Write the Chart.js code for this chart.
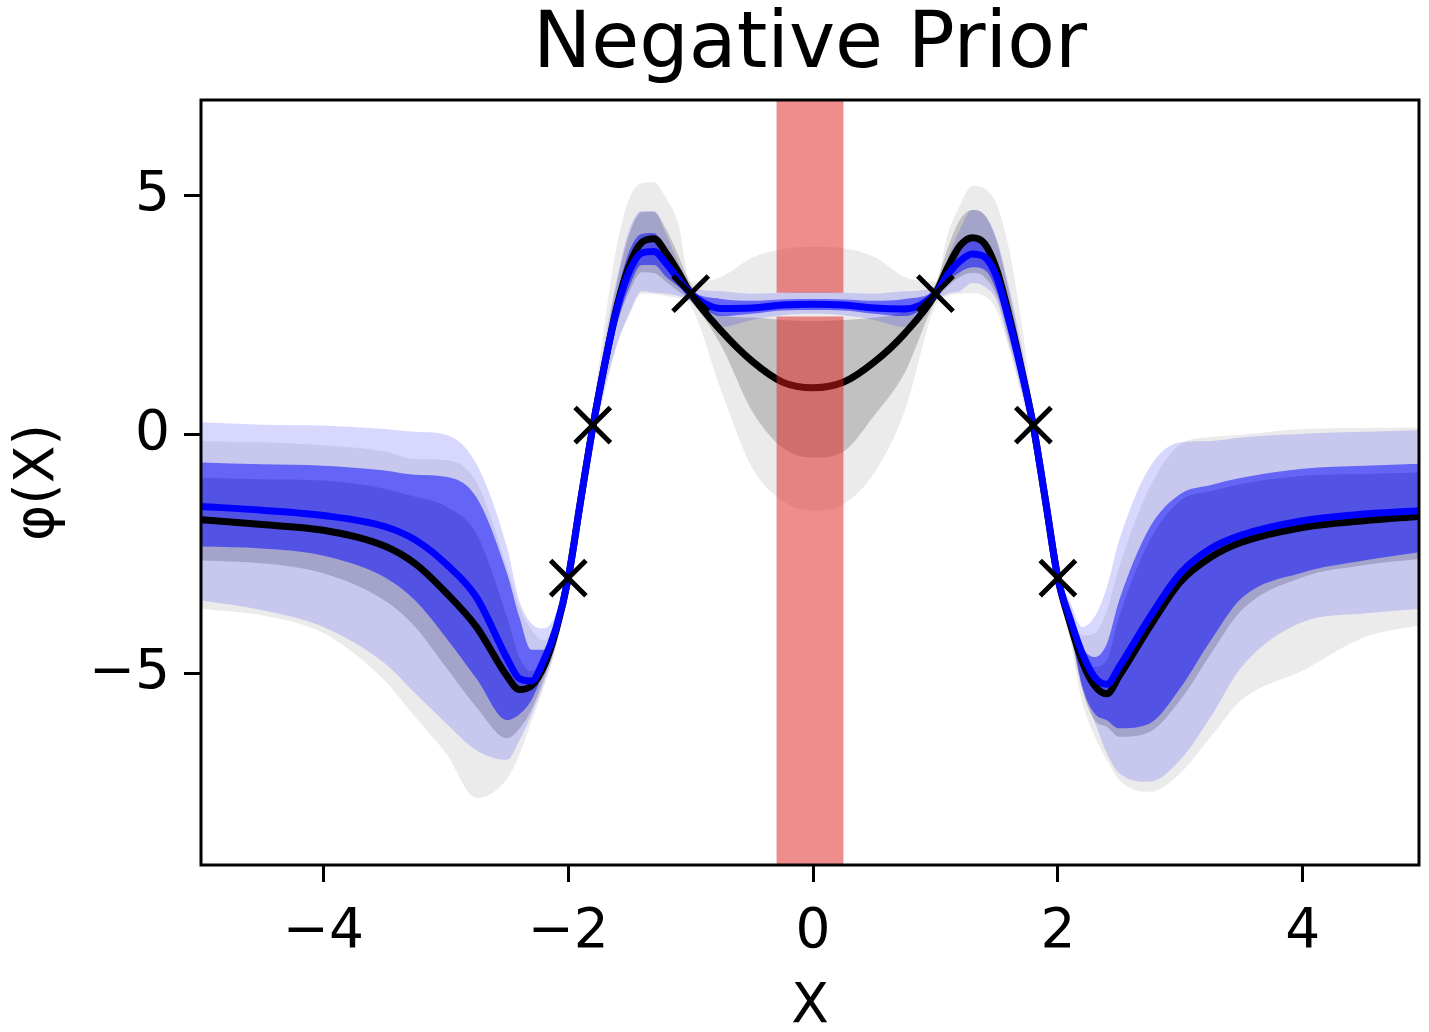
<!DOCTYPE html>
<html>
<head>
<meta charset="utf-8">
<script src="https://cdn.jsdelivr.net/npm/chart.js@4.4.1/dist/chart.umd.min.js"></script>
<style>
  html, body { margin: 0; padding: 0; background: #fff; }
  #wrap { width: 1429px; height: 1032px; }
</style>
</head>
<body>
<div id="wrap"><canvas id="priorChart" width="1429" height="1032"></canvas></div>
<script>
// x grid shared by all curves and bands
var xs = [-5, -4.5, -4, -3.5, -3.25, -3, -2.75, -2.5, -2.4, -2.3, -2.2, -2.1, -2,
          -1.9, -1.8, -1.7, -1.6, -1.5, -1.4, -1.3, -1.2, -1.1, -1, -0.75, -0.5, -0.25,
          0, 0.25, 0.5, 0.75, 1, 1.1, 1.2, 1.3, 1.4, 1.5, 1.6, 1.7, 1.8,
          1.9, 2, 2.1, 2.2, 2.3, 2.4, 2.5, 2.75, 3, 3.25, 3.5, 4, 4.5, 4.95];

// black model: mean and two bands
var blackMean = [-1.78, -1.88, -2.0, -2.33, -2.7, -3.3, -4.02, -5.05, -5.33, -5.25, -4.85, -4.1, -3.0,
                 -1.4, 0.15, 1.5, 2.7, 3.55, 4.02, 4.1, 3.8, 3.4, 2.95, 2.17, 1.54, 1.1,
                 0.98, 1.1, 1.52, 2.12, 2.95, 3.5, 3.95, 4.12, 4.0, 3.45, 2.5, 1.4, 0.17,
                 -1.4, -3.0, -3.95, -4.75, -5.25, -5.42, -5.05, -4.02, -3.08, -2.56, -2.25, -1.94, -1.8, -1.71];
var greyOuterHi = [-0.13, -0.16, -0.22, -0.35, -0.51, -0.53, -0.99, -2.77, -3.6, -4.08, -4.3, -3.9, -2.8,
                   -1.15, 0.5, 2.4, 4.0, 4.95, 5.26, 5.28, 4.95, 4.4, 3.2, 3.3, 3.7, 3.88,
                   3.93, 3.9, 3.72, 3.3, 3.2, 4.2, 4.8, 5.2, 5.15, 4.82, 3.9, 2.4, 0.5,
                   -1.15, -2.8, -3.7, -4.2, -4.16, -3.67, -2.77, -1.1, -0.2, -0.05, 0.0, 0.12, 0.14, 0.15];
var greyOuterLo = [-3.64, -3.78, -4.15, -5.14, -5.91, -6.66, -7.6, -7.2, -6.7, -6.0, -5.3, -4.45, -3.2,
                   -1.65, -0.15, 0.9, 1.9, 2.5, 2.95, 2.94, 2.9, 2.85, 2.7, 0.92, -0.68, -1.38,
                   -1.59, -1.45, -0.8, 0.5, 2.7, 2.9, 2.95, 2.96, 2.9, 2.6, 1.8, 0.85, -0.15,
                   -1.65, -3.2, -4.3, -5.6, -6.3, -6.8, -7.22, -7.47, -7.08, -6.32, -5.55, -4.93, -4.24, -3.99];
var greyInnerHi = [-0.9, -0.93, -0.96, -1.13, -1.3, -1.5, -2.07, -3.81, -4.65, -4.95, -4.6, -4.0, -2.9,
                   -1.25, 0.32, 1.85, 3.2, 4.2, 4.65, 4.66, 4.3, 3.75, 3.15, 2.5, 2.45, 2.4,
                   2.38, 2.4, 2.45, 2.6, 3.15, 3.9, 4.5, 4.7, 4.6, 4.05, 3.0, 1.75, 0.32,
                   -1.25, -2.9, -3.8, -4.6, -4.86, -4.72, -3.81, -2.21, -1.38, -1.18, -1.03, -0.86, -0.82, -0.79];
var greyInnerLo = [-2.63, -2.69, -2.9, -3.47, -4.02, -4.86, -5.7, -6.35, -6.15, -5.75, -5.1, -4.35, -3.1,
                   -1.55, 0.0, 1.2, 2.3, 3.0, 3.4, 3.38, 3.2, 3.0, 2.8, 1.86, 0.5, -0.27,
                   -0.48, -0.35, 0.4, 1.3, 2.8, 3.1, 3.3, 3.38, 3.3, 2.9, 2.0, 1.05, 0.0,
                   -1.55, -3.1, -4.1, -5.34, -5.97, -6.11, -6.32, -6.22, -5.55, -4.58, -3.67, -2.98, -2.73, -2.6];

// blue model: mean and two bands
var blueMean = [-1.5, -1.58, -1.69, -1.92, -2.2, -2.7, -3.4, -4.68, -5.1, -5.15, -4.72, -4.05, -3.0,
                -1.4, 0.15, 1.5, 2.65, 3.42, 3.8, 3.83, 3.58, 3.25, 2.95, 2.64, 2.65, 2.71,
                2.73, 2.71, 2.65, 2.63, 2.95, 3.35, 3.63, 3.78, 3.72, 3.3, 2.4, 1.35, 0.17,
                -1.4, -3.0, -3.85, -4.58, -5.07, -5.22, -4.86, -3.82, -2.9, -2.38, -2.1, -1.8, -1.66, -1.59];
var blueOuterHi = [0.26, 0.21, 0.19, 0.12, 0.06, 0.0, -0.61, -2.36, -3.47, -3.95, -4.05, -3.75, -2.85,
                   -1.2, 0.4, 2.0, 3.3, 4.3, 4.68, 4.68, 4.2, 3.6, 3.1, 3.0, 2.95, 2.97,
                   2.99, 2.97, 2.95, 3.0, 3.1, 3.7, 4.3, 4.7, 4.6, 4.1, 3.1, 1.9, 0.4,
                   -1.2, -2.85, -3.5, -4.02, -3.81, -3.19, -2.21, -0.68, -0.16, -0.13, -0.06, 0.02, 0.06, 0.1];
var blueOuterLo = [-3.47, -3.67, -4.02, -4.78, -5.41, -6.03, -6.6, -6.8, -6.4, -5.85, -5.2, -4.4, -3.15,
                   -1.6, -0.1, 1.0, 1.9, 2.55, 3.0, 2.97, 2.95, 2.9, 2.8, 2.25, 2.4, 2.5,
                   2.53, 2.5, 2.4, 2.25, 2.8, 2.95, 3.0, 3.17, 3.1, 2.8, 1.9, 0.95, -0.1,
                   -1.6, -3.15, -4.2, -5.3, -6.0, -6.66, -7.08, -7.26, -6.8, -5.9, -4.86, -3.92, -3.74, -3.64];
var blueInnerHi = [-0.58, -0.62, -0.65, -0.75, -0.84, -0.88, -1.31, -2.9, -3.81, -4.5, -4.5, -3.9, -2.92,
                   -1.3, 0.28, 1.7, 2.95, 3.85, 4.2, 4.22, 3.85, 3.45, 3.03, 2.84, 2.8, 2.83,
                   2.84, 2.83, 2.8, 2.84, 3.03, 3.5, 3.9, 4.1, 4.0, 3.6, 2.7, 1.6, 0.28,
                   -1.3, -2.92, -3.7, -4.44, -4.65, -4.37, -3.47, -1.94, -1.24, -1.05, -0.9, -0.71, -0.65, -0.61];
var blueInnerLo = [-2.34, -2.38, -2.53, -2.98, -3.47, -4.24, -5.1, -5.97, -5.85, -5.55, -4.95, -4.3, -3.08,
                   -1.5, 0.03, 1.3, 2.35, 3.1, 3.55, 3.55, 3.3, 3.1, 2.87, 2.48, 2.53, 2.6,
                   2.61, 2.6, 2.53, 2.48, 2.87, 3.2, 3.4, 3.5, 3.45, 3.0, 2.1, 1.1, 0.03,
                   -1.5, -3.08, -4.0, -5.27, -5.83, -5.97, -6.14, -6.04, -5.3, -4.3, -3.42, -2.88, -2.63, -2.46];

// observations
var obsX = [-2, -1.8, -1, 1, 1.8, 2];
var obsY = [-3, 0.2, 2.95, 2.95, 0.2, -3];

// red region (x span) and the gap in it (y span)
var redX = [-0.3, 0.25];
var redGap = [2.47, 2.97];

var xTicks = [-4, -2, 0, 2, 4];
var yTicks = [-5, 0, 5];
var xRange = [-5, 4.95];
var yRange = [-9, 7];

var FONT = 'DejaVu Sans';

function pts(ys) {
    return xs.map(function (x, i) { return { x: x, y: ys[i] }; });
}

var datasets = [];

function addBand(lo, hi, color, order) {
    datasets.push({
        data: pts(lo), borderWidth: 0, borderColor: 'rgba(0,0,0,0)', pointRadius: 0,
        fill: false, order: order, cubicInterpolationMode: 'monotone'
    });
    datasets.push({
        data: pts(hi), borderWidth: 0, borderColor: 'rgba(0,0,0,0)', pointRadius: 0,
        fill: datasets.length - 1, backgroundColor: color, order: order,
        cubicInterpolationMode: 'monotone'
    });
}

function addLine(ys, color, order) {
    datasets.push({
        data: pts(ys), borderWidth: 7, borderColor: color, pointRadius: 0,
        fill: false, order: order, cubicInterpolationMode: 'monotone'
    });
}

// higher order = drawn further back
addBand(greyOuterLo, greyOuterHi, 'rgba(0,0,0,0.08)', 20);
addBand(greyInnerLo, greyInnerHi, 'rgba(0,0,0,0.18)', 18);
addBand(blueOuterLo, blueOuterHi, 'rgba(0,0,255,0.153)', 17);
addBand(blueInnerLo, blueInnerHi, 'rgba(0,0,255,0.5)', 16);
addLine(blackMean, '#000000', 15);

// red column, split around the gap
datasets.push({
    data: [{ x: redX[0], y: redGap[1] }, { x: redX[1], y: redGap[1] }],
    borderWidth: 0, borderColor: 'rgba(0,0,0,0)', pointRadius: 0,
    fill: { value: yRange[1] }, backgroundColor: 'rgba(224,28,28,0.5)', order: 14
});
datasets.push({
    data: [{ x: redX[0], y: redGap[0] }, { x: redX[1], y: redGap[0] }],
    borderWidth: 0, borderColor: 'rgba(0,0,0,0)', pointRadius: 0,
    fill: { value: yRange[0] }, backgroundColor: 'rgba(224,28,28,0.5)', order: 14
});

addLine(blueMean, '#0000ff', 8);

datasets.push({
    data: obsX.map(function (x, i) { return { x: x, y: obsY[i] }; }),
    showLine: false, pointStyle: 'crossRot', pointRadius: 25,
    pointBorderWidth: 5, pointBorderColor: '#000000', order: 2
});

function fmt(v) {
    return v < 0 ? '\u2212' + Math.abs(v) : String(v);
}

var framePlugin = {
    id: 'frame',
    afterDatasetsDraw: function (chart) {
        var a = chart.chartArea, ctx = chart.ctx;
        ctx.save();
        ctx.strokeStyle = '#000';
        ctx.lineWidth = 3;
        ctx.strokeRect(a.left, a.top, a.right - a.left, a.bottom - a.top);
        ctx.restore();
    }
};

var tickGrid = {
    display: true, drawOnChartArea: false, drawTicks: true,
    tickLength: 17, tickWidth: 3, tickColor: '#000'
};

new Chart(document.getElementById('priorChart').getContext('2d'), {
    type: 'line',
    data: { datasets: datasets },
    plugins: [framePlugin],
    options: {
        responsive: false,
        animation: false,
        devicePixelRatio: 1,
        events: [],
        layout: { autoPadding: false, padding: { left: 0, right: 10, top: 0, bottom: 0 } },
        plugins: {
            legend: { display: false },
            tooltip: { enabled: false },
            title: { display: false }
        },
        scales: {
            x: {
                type: 'linear', min: xRange[0], max: xRange[1],
                afterBuildTicks: function (s) { s.ticks = xTicks.map(function (v) { return { value: v }; }); },
                afterFit: function (s) { s.height = 167; s.paddingLeft = 0; s.paddingRight = 0; },
                ticks: { color: '#000', font: { family: FONT, size: 55 }, padding: 18, maxRotation: 0, autoSkip: false, callback: fmt },
                grid: tickGrid,
                border: { display: false },
                title: { display: true, text: 'X', color: '#000', font: { family: FONT, size: 55, lineHeight: 0.9 }, padding: { top: 0, bottom: 0 } }
            },
            // top axis only carries the chart title, centred over the plot area
            x2: {
                type: 'linear', position: 'top', min: xRange[0], max: xRange[1],
                afterFit: function (s) { s.height = 100; s.paddingLeft = 0; s.paddingRight = 0; },
                ticks: { display: false },
                grid: { display: false, drawTicks: false },
                border: { display: false },
                title: { display: true, text: 'Negative Prior', color: '#000', font: { family: FONT, size: 78, lineHeight: 1.0 }, padding: { top: 8, bottom: 0 } }
            },
            y: {
                type: 'linear', min: yRange[0], max: yRange[1],
                afterBuildTicks: function (s) { s.ticks = yTicks.map(function (v) { return { value: v }; }); },
                afterFit: function (s) { s.width = 201; s.paddingTop = 0; s.paddingBottom = 0; },
                ticks: { color: '#000', font: { family: FONT, size: 55 }, padding: 14, autoSkip: false, callback: fmt },
                grid: tickGrid,
                border: { display: false },
                title: { display: true, text: '\u03c6(X)', color: '#000', font: { family: FONT, size: 55, lineHeight: 0.9 }, padding: { top: 14, bottom: 0 } }
            }
        }
    }
});
</script>
</body>
</html>
